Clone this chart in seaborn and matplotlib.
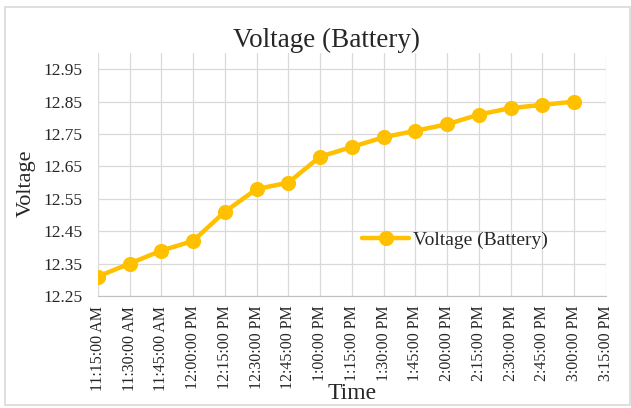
import numpy as np
import pandas as pd
import matplotlib
matplotlib.use('Agg')
import matplotlib.pyplot as plt
import seaborn as sns
from matplotlib.patches import Rectangle

times = ['11:15:00 AM', '11:30:00 AM', '11:45:00 AM', '12:00:00 PM', '12:15:00 PM',
         '12:30:00 PM', '12:45:00 PM', '1:00:00 PM', '1:15:00 PM', '1:30:00 PM',
         '1:45:00 PM', '2:00:00 PM', '2:15:00 PM', '2:30:00 PM', '2:45:00 PM',
         '3:00:00 PM', '3:15:00 PM']
voltage = [12.31, 12.35, 12.39, 12.42, 12.51, 12.58, 12.60, 12.68, 12.71,
           12.74, 12.76, 12.78, 12.81, 12.83, 12.84, 12.85]
y_ticks = [12.25, 12.35, 12.45, 12.55, 12.65, 12.75, 12.85, 12.95]

gold = '#FFC000'
grid_col = '#D9D9D9'

sns.set_style("white")
plt.rcParams['font.family'] = ['Liberation Serif', 'DejaVu Serif']

df = pd.DataFrame({'Time': times[:len(voltage)], 'Voltage': voltage})

fig = plt.figure(figsize=(6.31, 4.08), dpi=100)
ax = fig.add_axes([0.155, 0.2745, 0.805, 0.5955])

sns.pointplot(data=df, x='Time', y='Voltage', order=times, color=gold,
              errorbar=None, markersize=8.5, linewidth=3.2, label='Voltage (Battery)', ax=ax)

ax.set_xlim(0, len(times) - 1)
ax.set_ylim(12.25, 13.0)
ax.set_yticks(y_ticks)
ax.set_yticklabels([f'{v:.2f}' for v in y_ticks], fontsize=12.5)
ax.set_xticks(range(len(times)))
ax.set_xticklabels(times, rotation=90, fontsize=11.5)
ax.tick_params(axis='y', length=0, pad=11)
ax.tick_params(axis='x', length=0, pad=7)
ax.grid(True, color=grid_col, linewidth=0.9)
ax.set_axisbelow(True)
for s in ['top', 'right', 'left']:
    ax.spines[s].set_visible(False)
ax.spines['bottom'].set_color('#BFBFBF')

ax.set_xlabel('Time', fontsize=17)
ax.xaxis.set_label_coords(0.5, -0.36)
ax.set_ylabel('Voltage', fontsize=16)
ax.yaxis.set_label_coords(-0.122, 0.465)

leg = ax.legend(loc='center', bbox_to_anchor=(0.703, 0.23), frameon=False,
                fontsize=14, handlelength=2.4, handletextpad=0.2)

fig.text(0.518, 0.902, 'Voltage (Battery)', ha='center', va='center', fontsize=19.5)

fig.patches.append(Rectangle((0.008, 0.008), 0.99, 0.975, transform=fig.transFigure,
                             fill=False, edgecolor='#D9D9D9', linewidth=1.2))

plt.savefig('out.png', dpi=100)
